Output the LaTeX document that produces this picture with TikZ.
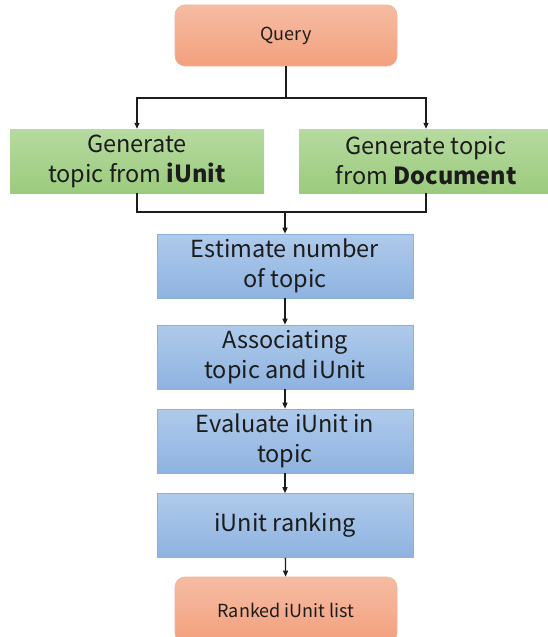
\documentclass[tikz,border=0pt]{standalone}
\usepackage{fontspec}
\setmainfont{Noto Sans CJK JP}
\usetikzlibrary{arrows.meta}
\definecolor{termtop}{HTML}{F6BCA3}
\definecolor{termbot}{HTML}{F3A07D}
\definecolor{termedge}{HTML}{F2B298}
\definecolor{gentop}{HTML}{B6DAA0}
\definecolor{genbot}{HTML}{9BCB7D}
\definecolor{steptop}{HTML}{AFCAEB}
\definecolor{stepbot}{HTML}{8EB3E0}
\definecolor{stepedge}{HTML}{8CAFDB}
\definecolor{ink}{HTML}{1C1C1C}
\begin{document}
\begin{tikzpicture}[x=1pt,y=-1pt,
  box/.style={inner sep=0pt, align=center, text=ink,
    font=\fontsize{23.5}{30}\selectfont},
  term/.style={box, draw=termedge, line width=0.6pt, rounded corners=10pt,
    top color=termtop, bottom color=termbot,
    font=\fontsize{18}{22}\selectfont},
  gen/.style={box, top color=gentop, bottom color=genbot,
    minimum width=254pt, minimum height=64pt},
  stepbox/.style={box, draw=stepedge, line width=0.6pt,
    top color=steptop, bottom color=stepbot,
    minimum width=256pt, minimum height=64pt},
  conn/.style={draw=ink, line width=1.3pt},
  arr/.style={conn, -{Triangle[length=6pt,width=5pt]}}
]
\useasboundingbox (0,0) rectangle (548,637);
\clip (0,0) rectangle (548,637);

% start and end terminals
\node[term, minimum width=222pt, minimum height=61pt] (query) at (286,35.5) {Query};
\node[term, minimum width=222pt, minimum height=66pt] (ranked) at (286,610) {Ranked iUnit list};

% two ways of generating topics
\node[gen] (genU) at (137,161) {Generate\\topic from \textbf{iUnit}};
\node[gen] (genD) at (426,161) {Generate topic\\from \textbf{Document}};

% processing steps
\node[stepbox] (est)  at (285,266) {Estimate number\\of topic};
\node[stepbox] (assoc) at (285,357) {Associating\\topic and iUnit};
\node[stepbox] (eval) at (285,441) {Evaluate iUnit in\\topic};
\node[stepbox] (rank) at (285,525.5) {iUnit ranking};

% fork and join
\coordinate (fork) at (286,98);
\coordinate (join) at (285,212);
\draw[conn] (query.south) |- (fork);
\draw[arr] (fork) -| (genU.north);
\draw[arr] (fork) -| (genD.north);
\draw[conn] (genU.south) |- (join) -| (genD.south);
\draw[arr] (join) -- (est.north);

% chain of steps
\draw[arr] (est) -- (assoc);
\draw[arr] (assoc) -- (eval);
\draw[arr] (eval) -- (rank);
\draw[arr] (rank) -- (ranked);
\end{tikzpicture}
\end{document}
